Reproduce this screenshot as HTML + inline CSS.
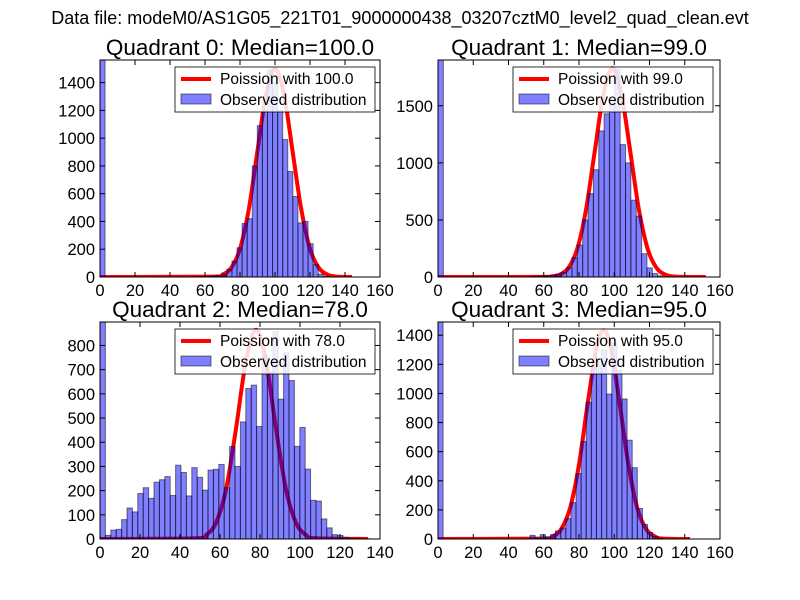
<!DOCTYPE html>
<html><head><meta charset="utf-8">
<style>
html,body{margin:0;padding:0;background:#fff;}
svg{display:block;font-family:"Liberation Sans",sans-serif;}
</style></head>
<body>
<svg id="fig" width="800" height="600" viewBox="0 0 800 600" xmlns="http://www.w3.org/2000/svg">
<rect width="800" height="600" fill="#fff"/>
<text x="400" y="24" font-size="18" text-anchor="middle">Data file: modeM0/AS1G05_221T01_9000000438_03207cztM0_level2_quad_clean.evt</text>
</svg>
<script>
// ---- data ----
const q0Counts = [2000,0,0,0,0,0,0,0,0,0,0,0,0,0,0,0,0,0,2,3,3,5,8,10,20,55,115,210,385,420,800,1090,1200,1490,1400,1200,990,760,580,390,400,240,90,20,5,0,0,0,0,0];
const q1Counts = [3000,0,0,0,0,0,0,0,0,0,0,0,0,0,0,0,0,3,5,8,10,15,25,40,82,170,280,500,730,940,1280,1430,1520,1820,1160,1000,673,533,204,80,30,10,3,0,0,0,0,0,0,0];
const q2Counts = [1200,15,37,40,80,128,112,188,212,168,235,245,258,180,305,275,178,295,255,202,285,288,308,212,382,300,484,622,636,465,760,690,858,578,770,655,383,461,289,160,157,83,46,18,15,7,3,2,1,1];
const q3Counts = [2000,0,0,0,0,0,0,0,0,0,0,0,0,0,0,0,0,0,25,8,30,15,30,55,75,140,250,450,670,940,1180,1220,1300,996,1346,1160,962,679,490,210,100,45,18,5,0,0,0,0,0,0];
const binWidths = [2.9, 3.04, 2.7, 2.9];
const medians = ["100.0","99.0","78.0","95.0"];
const q0CurveX = [0,65,70,75,80,85,90,95,100,105,110,115,120,125,130,135,144];
const q0CurveY = [0,3,17,66,203,487,910,1324,1500,1324,910,487,203,66,17,3,0];
const q1CurveX = [0,59,64,69,74,79,84,89,94,99,104,109,114,119,124,129,134,139,152];
const q1CurveY = [0,1,4,20,80,245,590,1110,1610,1830,1610,1110,590,245,80,20,4,1,0];
const q2CurveX = [0,48,53,58,63,68,73,78,83,88,93,98,103,108,134];
const q2CurveY = [0,3,16,67,204,456,737,865,737,456,204,67,16,3,0];
const q3CurveX = [0,60,65,70,75,80,85,90,94,98,103,108,113,118,123,128,143];
const q3CurveY = [0,3,17,70,216,512,937,1318,1434,1318,937,512,216,70,17,3,0];
const q0YTicks = [0,200,400,600,800,1000,1200,1400];
const q1YTicks = [0,500,1000,1500];
const q2YTicks = [0,100,200,300,400,500,600,700,800];
const q3YTicks = [0,200,400,600,800,1000,1200,1400];
const xTicks160 = [0,20,40,60,80,100,120,140,160];
const xTicks140 = [0,20,40,60,80,100,120,140];

const NS="http://www.w3.org/2000/svg";
const svg=document.getElementById('fig');
function mk(tag,attrs,parent){const e=document.createElementNS(NS,tag);for(const k in attrs)e.setAttribute(k,attrs[k]);(parent||svg).appendChild(e);return e;}

const panels=[
 {x0:100,x1:380,yb:277,yt:60,xmax:160,ymax:1563,counts:q0Counts,cx:q0CurveX,cy:q0CurveY,yt_:q0YTicks,xt:xTicks160},
 {x0:438,x1:720,yb:277,yt:60,xmax:160,ymax:1901,counts:q1Counts,cx:q1CurveX,cy:q1CurveY,yt_:q1YTicks,xt:xTicks160},
 {x0:100,x1:380,yb:539,yt:322,xmax:140,ymax:897,counts:q2Counts,cx:q2CurveX,cy:q2CurveY,yt_:q2YTicks,xt:xTicks140},
 {x0:438,x1:720,yb:539,yt:322,xmax:160,ymax:1491,counts:q3Counts,cx:q3CurveX,cy:q3CurveY,yt_:q3YTicks,xt:xTicks160}
];

function smoothPath(px,py){
  let d='M'+px[0].toFixed(1)+','+py[0].toFixed(1);
  for(let i=0;i<px.length-1;i++){
    const x0=px[Math.max(i-1,0)],y0=py[Math.max(i-1,0)];
    const x1=px[i],y1=py[i],x2=px[i+1],y2=py[i+1];
    const x3=px[Math.min(i+2,px.length-1)],y3=py[Math.min(i+2,px.length-1)];
    const c1x=x1+(x2-x0)/6,c1y=y1+(y2-y0)/6,c2x=x2-(x3-x1)/6,c2y=y2-(y3-y1)/6;
    d+=' C'+c1x.toFixed(1)+','+c1y.toFixed(1)+' '+c2x.toFixed(1)+','+c2y.toFixed(1)+' '+x2.toFixed(1)+','+y2.toFixed(1);
  }
  return d;
}

panels.forEach((p,qi)=>{
  const g=mk('g',{});
  
  
  const sx=v=>p.x0+(p.x1-p.x0)*v/p.xmax;
  const sy=v=>p.yb-(p.yb-p.yt)*Math.min(v,p.ymax)/p.ymax;
  const clipId='clip'+qi;
  const cp=mk('clipPath',{id:clipId},g);
  mk('rect',{x:p.x0,y:p.yt,width:p.x1-p.x0,height:p.yb-p.yt},cp);
  const t=mk('text',{x:(p.x0+p.x1)/2,y:p.yt-5,'font-size':22.5,'text-anchor':'middle'},g);
  
  
  t.textContent='Quadrant '+qi+': Median='+medians[qi];
  const path=smoothPath(p.cx.map(sx),p.cy.map(sy));
  const line=mk('path',{d:path,fill:'none',stroke:'#ff0000','stroke-width':4,'stroke-linejoin':'round','clip-path':'url(#'+clipId+')'},g);
  
  
  const bw=binWidths[qi];
  p.counts.forEach((c,i)=>{
    if(c<=0)return;
    const b=mk('rect',{x:sx(i*bw),y:sy(c),width:sx((i+1)*bw)-sx(i*bw),height:p.yb-sy(c),fill:'rgba(0,0,255,0.5)',stroke:'rgba(0,0,0,0.5)','stroke-width':1,'clip-path':'url(#'+clipId+')'},g);
    
    
  });
  const fr=mk('rect',{x:p.x0,y:p.yt,width:p.x1-p.x0,height:p.yb-p.yt,fill:'none',stroke:'#000','stroke-width':1},g);
  
  
  p.xt.forEach(v=>{
    const x=sx(v);
    mk('line',{x1:x,x2:x,y1:p.yb,y2:p.yb-5,stroke:'#000'},g);
    mk('line',{x1:x,x2:x,y1:p.yt,y2:p.yt+5,stroke:'#000'},g);
    const l=mk('text',{x:x,y:p.yb+19,'font-size':16.5,'text-anchor':'middle'},g);
    
    
    l.textContent=v;
  });
  p.yt_.forEach(v=>{
    const y=sy(v);
    mk('line',{x1:p.x0,x2:p.x0+5,y1:y,y2:y,stroke:'#000'},g);
    mk('line',{x1:p.x1,x2:p.x1-5,y1:y,y2:y,stroke:'#000'},g);
    const l=mk('text',{x:p.x0-5,y:y+6,'font-size':16.5,'text-anchor':'end'},g);
    
    
    l.textContent=v;
  });
  const lx=p.x0+75, ly=p.yt+7;
  const lg=mk('g',{},g);
  
  
  mk('rect',{x:lx,y:ly,width:200,height:45,fill:'#fff',stroke:'#000','stroke-width':0.8,'fill-opacity':0.85},lg);
  mk('line',{x1:lx+6,x2:lx+36,y1:ly+12,y2:ly+12,stroke:'#ff0000','stroke-width':4},lg);
  mk('rect',{x:lx+6,y:ly+27,width:30,height:10,fill:'rgba(0,0,255,0.5)',stroke:'rgba(0,0,0,0.5)'},lg);
  const t1=mk('text',{x:lx+45,y:ly+17,'font-size':15.5},lg);
  
  
  t1.textContent='Poission with '+medians[qi];
  const t2=mk('text',{x:lx+45,y:ly+38,'font-size':15.5},lg);
  
  
  t2.textContent='Observed distribution';
});
</script>
</body></html>
